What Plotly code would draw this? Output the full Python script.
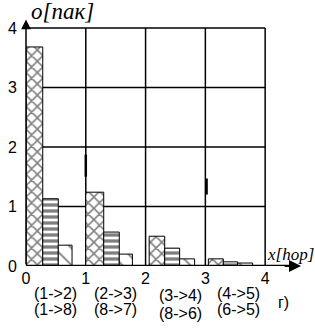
import plotly.graph_objects as go

# data
groups = [0, 1, 2, 3]
s_cross = [3.68, 1.24, 0.50, 0.12]
s_horiz = [1.13, 0.57, 0.30, 0.07]
s_diag = [0.35, 0.20, 0.12, 0.05]
xticks = [0, 1, 2, 3, 4]
yticks = [0, 1, 2, 3, 4]
pairs_top = ["(1-&gt;2)", "(2-&gt;3)", "(3-&gt;4)", "(4-&gt;5)"]
pairs_bot = ["(1-&gt;8)", "(8-&gt;7)", "(8-&gt;6)", "(6-&gt;5)"]

# styles / positions
off1, w1 = [0, 0, 0.06, 0.05], [0.28, 0.30, 0.26, 0.25]
off2, w2 = [0.28, 0.30, 0.32, 0.30], [0.26, 0.26, 0.25, 0.24]
off3, w3 = [0.54, 0.56, 0.57, 0.54], [0.23, 0.22, 0.25, 0.25]
lab_x = [0.105, 0.319, 0.551, 0.758]
lab_y_top = [-0.108, -0.108, -0.118, -0.108]
lab_y_bot = [-0.174, -0.174, -0.188, -0.174]

fig = go.Figure()
line = dict(color="black", width=1)
fig.add_trace(go.Bar(x=groups, y=s_cross, offset=off1, width=w1,
                     marker=dict(color="white", line=line,
                                 pattern=dict(shape="x", fgcolor="black", bgcolor="white", size=8, solidity=0.35))))
fig.add_trace(go.Bar(x=groups, y=s_horiz, offset=off2, width=w2,
                     marker=dict(color="white", line=line,
                                 pattern=dict(shape="-", fgcolor="black", bgcolor="white", size=6, solidity=0.55))))
fig.add_trace(go.Bar(x=groups, y=s_diag, offset=off3, width=w3,
                     marker=dict(color="white", line=line,
                                 pattern=dict(shape="\\", fgcolor="black", bgcolor="white", size=12, solidity=0.15))))

shapes = []
for v in [1, 2, 3, 4]:
    shapes.append(dict(type="line", xref="x", yref="y", x0=0, x1=4, y0=v, y1=v,
                       line=dict(color="black", width=1.5), layer="below"))
    shapes.append(dict(type="line", xref="x", yref="y", x0=v, x1=v, y0=0, y1=4,
                       line=dict(color="black", width=1.5), layer="below"))
# thick axis segments / marks
shapes.append(dict(type="line", xref="x", yref="y", x0=-0.02, x1=-0.02, y0=0, y1=3.17,
                   line=dict(color="black", width=3)))
shapes.append(dict(type="line", xref="x", yref="y", x0=1, x1=1, y0=1.5, y1=1.87,
                   line=dict(color="black", width=2.5)))
shapes.append(dict(type="line", xref="x", yref="y", x0=3.02, x1=3.02, y0=1.2, y1=1.47,
                   line=dict(color="black", width=2.5)))
shapes.append(dict(type="line", xref="x", yref="y", x0=0, x1=4.5, y0=0, y1=0,
                   line=dict(color="black", width=2.5)))

ann = []
# axis arrows
ann.append(dict(x=4.6, y=0, ax=4.3, ay=0, xref="x", yref="y", axref="x", ayref="y",
                showarrow=True, arrowhead=2, arrowsize=1.2, arrowwidth=2, arrowcolor="black", text=""))
ann.append(dict(x=0, y=4.14, ax=0, ay=0, xref="x", yref="y", axref="x", ayref="y",
                showarrow=True, arrowhead=2, arrowsize=1.3, arrowwidth=1.5, arrowcolor="black", text=""))
# axis titles
center = dict(xref="paper", yref="paper", showarrow=False, xanchor="center", yanchor="middle")
ann.append(dict(x=0.13, y=1.016, text="<i>о[пак]</i>",
                font=dict(family="Liberation Serif", size=23, color="black"), **center))
ann.append(dict(x=0.94, y=0.046, text="<i>x[hop]</i>",
                font=dict(family="Liberation Serif", size=17, color="black"), **center))
for i in range(4):
    ann.append(dict(x=lab_x[i], y=lab_y_top[i], text=pairs_top[i],
                    font=dict(family="Liberation Sans", size=16, color="black"), **center))
    ann.append(dict(x=lab_x[i], y=lab_y_bot[i], text=pairs_bot[i],
                    font=dict(family="Liberation Sans", size=16, color="black"), **center))
ann.append(dict(x=0.916, y=-0.144, text="г)",
                font=dict(family="Liberation Sans", size=16, color="black"), **center))

fig.update_layout(
    width=315, height=329,
    margin=dict(l=22, r=8, t=16, b=63),
    paper_bgcolor="white", plot_bgcolor="white",
    showlegend=False, barmode="overlay",
    shapes=shapes, annotations=ann,
    xaxis=dict(range=[0, 4.7], tickvals=xticks, ticktext=[str(v) for v in xticks],
               showgrid=False, zeroline=False, showline=False, ticks="",
               tickfont=dict(family="Liberation Sans", size=16, color="black"), ticklabelstandoff=1),
    yaxis=dict(range=[0, 4.2], tickvals=yticks, ticktext=[str(v) for v in yticks],
               showgrid=False, zeroline=False, showline=False, ticks="",
               tickfont=dict(family="Liberation Sans", size=16, color="black"), ticklabelstandoff=8),
)
fig.write_html("out.html")
